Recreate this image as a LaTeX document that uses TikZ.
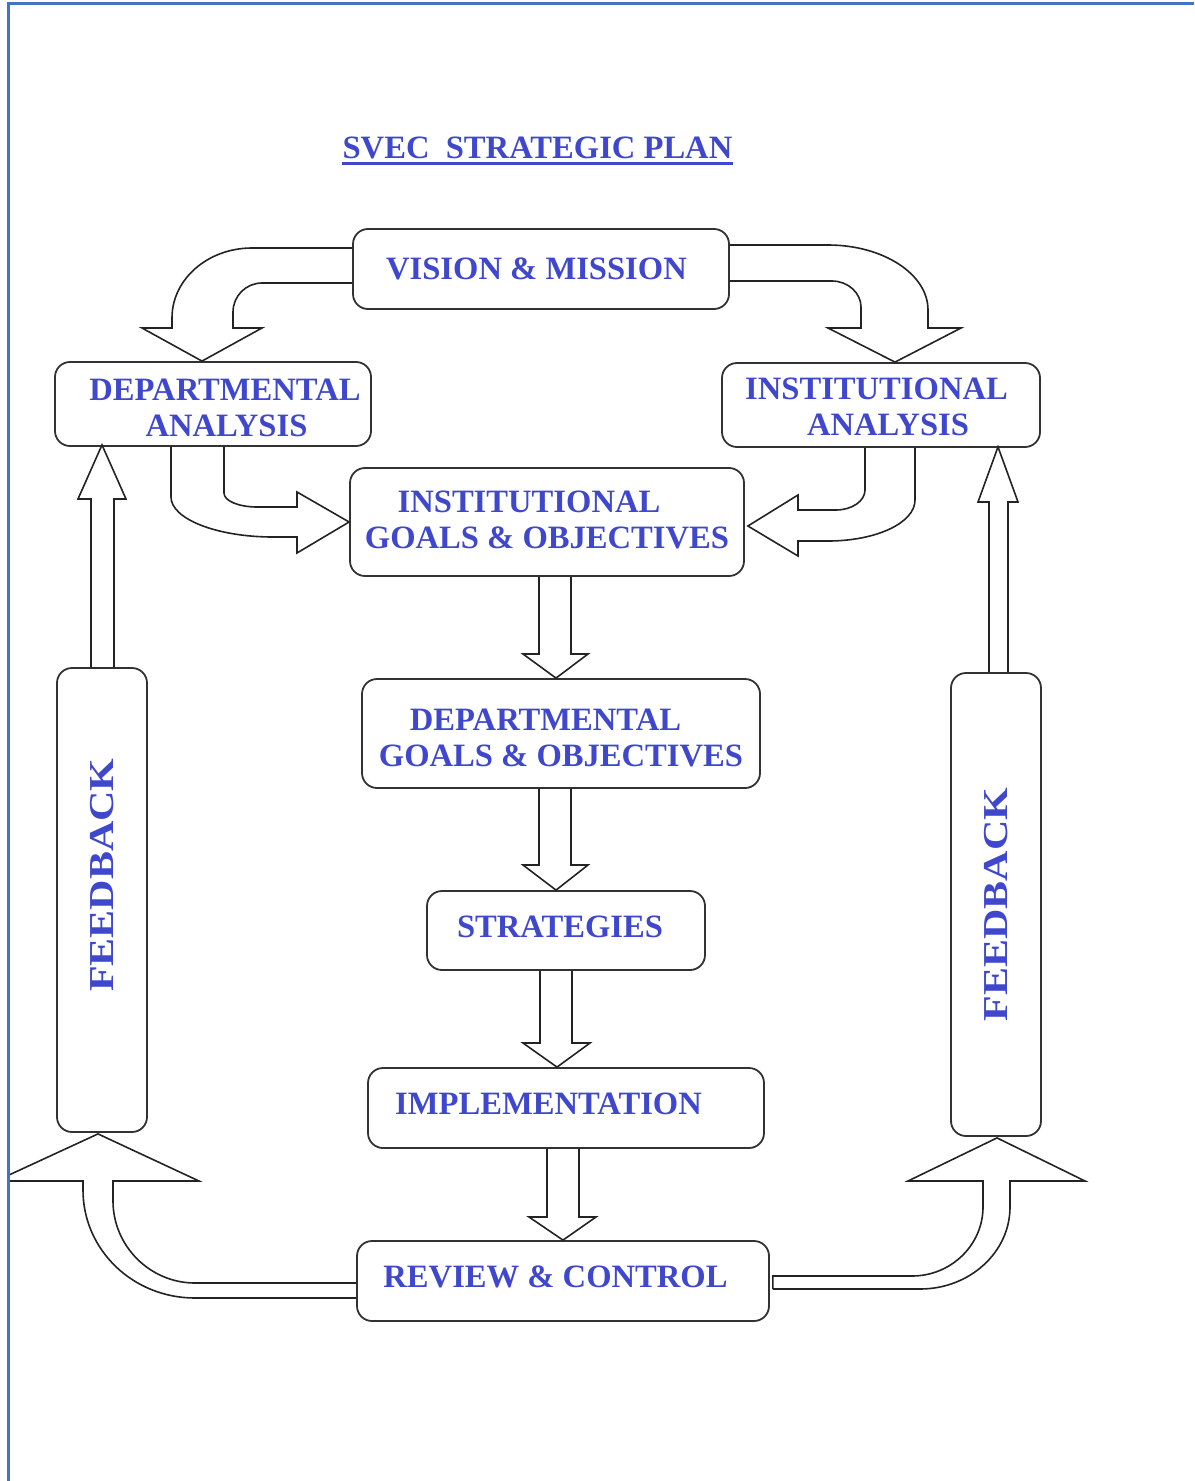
\documentclass[tikz,border=0pt]{standalone}
\usepackage{fontspec}
\setmainfont{Liberation Serif}
\usepackage{graphicx}
\usetikzlibrary{calc}
\definecolor{txtblue}{RGB}{63,72,204}
\definecolor{frameblue}{RGB}{68,114,196}
\definecolor{boxline}{RGB}{50,50,50}
\definecolor{arrline}{RGB}{35,35,35}
\tikzset{
  box/.style={draw=boxline, line width=0.9pt, rounded corners=7.5pt, fill=white,
    text=txtblue, font=\fontsize{16.3}{18}\selectfont\bfseries, inner sep=0pt},
  twoline/.style={box, align=center},
  oneline/.style={box, text depth=4pt},
  fbbox/.style={box, minimum width=45pt},
  barrow/.style={draw=arrline, line width=0.8pt, line join=miter}
}
\newcommand{\fbword}{\scalebox{1.2}[1]{\fontsize{17.5}{18}\selectfont\bfseries FEEDBACK}}
\begin{document}
\begin{tikzpicture}[x=0.5pt,y=-0.5pt]
\useasboundingbox (0,0) rectangle (1194,1481);

% title
\node[text=txtblue, font=\fontsize{16.3}{18}\selectfont\bfseries, inner sep=0pt] (title) at (537.5,147.5) {SVEC\ \ STRATEGIC PLAN};
\draw[txtblue, line width=1.5pt] ([yshift=-2.5pt]title.base west) -- ([yshift=-2.5pt]title.base east);

% boxes
\node[box, minimum width=188pt, minimum height=40pt] (vm) at (541,269) {VISION \& MISSION\hspace*{4.5pt}};
\node[twoline, minimum width=158pt, minimum height=42pt] (da) at (213,404) {\rule{0pt}{15pt}\hspace*{12pt}DEPARTMENTAL\\\hspace*{13.5pt}ANALYSIS};
\node[twoline, minimum width=159pt, minimum height=42pt] (ia) at (881,405) {\rule{0pt}{13pt}INSTITUTIONAL\hspace*{4.5pt}\\\hspace*{7pt}ANALYSIS};
\node[twoline, minimum width=197pt, minimum height=54pt] (ig) at (547,522) {INSTITUTIONAL\hspace*{18pt}\\GOALS \& OBJECTIVES\rule[-2.5pt]{0pt}{2.5pt}};
\node[twoline, minimum width=199pt, minimum height=54.5pt] (dg) at (561,733.5) {\rule{0pt}{15pt}DEPARTMENTAL\hspace*{15.5pt}\\GOALS \& OBJECTIVES};
\node[oneline, minimum width=139pt, minimum height=39.5pt] (st) at (566,930.5) {STRATEGIES\hspace*{6pt}};
\node[oneline, minimum width=198pt, minimum height=40pt] (im) at (566,1108) {IMPLEMENTATION\hspace*{17.5pt}};
\node[oneline, minimum width=206pt, minimum height=40pt] (rc) at (563,1281) {REVIEW \& CONTROL\hspace*{7.5pt}};
\node[fbbox, minimum height=232pt] (fbl) at (102,900) {\rotatebox{90}{\hspace*{25pt}\fbword}};
\node[fbbox, minimum height=231.5pt] (fbr) at (996,904.5) {\rotatebox{90}{\fbword}};

% vision -> departmental analysis
\draw[barrow] ($(vm.west)+(0,-21)$) -- (252,248) .. controls (208,248) and (172,279) .. (172,318)
  -- (172,328) -- (142,328) -- ($(da.north)+(-11,0)$) -- (262,328) -- (233,328) -- (233,312)
  .. controls (233,296) and (246,283) .. (262,283) -- ($(vm.west)+(0,14)$);
% vision -> institutional analysis
\draw[barrow] ($(vm.east)+(0,-24)$) -- (828,245) .. controls (883,245) and (928,274) .. (928,310)
  -- (928,328) -- (961,328) -- ($(ia.north)+(14,0)$) -- (828,328) -- (861,328) -- (861,307)
  .. controls (861,293) and (848,281) .. (832,281) -- ($(vm.east)+(0,12)$);
% departmental analysis -> institutional goals
\draw[barrow] ($(da.south)+(11,0)$) -- (224,493) .. controls (224,501) and (239,507) .. (257,507)
  -- (297,507) -- (297,492) -- (ig.west) -- (297,553) -- (297,537) -- (273,537)
  .. controls (217,537) and (171,519) .. (171,497) -- ($(da.south)+(-42,0)$);
% institutional analysis -> institutional goals
\draw[barrow] ($(ia.south)+(-16,0)$) -- (865,490) .. controls (865,501) and (852,510) .. (836,510)
  -- (798,510) -- (798,495) -- ($(ig.east)+(3,4)$) -- (798,556) -- (798,541) -- (828,541)
  .. controls (876,541) and (915,523) .. (915,500) -- ($(ia.south)+(34,0)$);
% feedback arrows up
\draw[barrow] ($(fbl.north)+(-11,0)$) -- (91,499) -- (78,499) -- ($(da.south)+(-111,-2)$)
  -- (126,499) -- (114,499) -- ($(fbl.north)+(12,0)$);
\draw[barrow] ($(fbr.north)+(-7,0)$) -- (989,502) -- (978,502) -- ($(ia.south)+(117,-1)$)
  -- (1018,502) -- (1008,502) -- ($(fbr.north)+(12,0)$);
% vertical chain
\draw[barrow] ($(ig.south)+(-8,0)$) -- (539,654) -- (523,654) -- ($(dg.north)+(-5,0)$)
  -- (588,654) -- (571,654) -- ($(ig.south)+(24,0)$);
\draw[barrow] ($(dg.south)+(-22,0)$) -- (539,865) -- (523,865) -- ($(st.north)+(-10,0)$)
  -- (588,865) -- (571,865) -- ($(dg.south)+(10,0)$);
\draw[barrow] ($(st.south)+(-26,0)$) -- (540,1043) -- (523,1043) -- ($(im.north)+(-9,0)$)
  -- (590,1043) -- (572,1043) -- ($(st.south)+(6,0)$);
\draw[barrow] ($(im.south)+(-19,0)$) -- (547,1217) -- (529,1217) -- (rc.north)
  -- (596,1217) -- (579,1217) -- ($(im.south)+(13,0)$);
% review -> left feedback
\draw[barrow] ($(rc.west)+(0,2)$) -- (195,1283) .. controls (150,1283) and (113,1246) .. (113,1201)
  -- (113,1181) -- (199,1181) -- ($(fbl.south)+(-4,1)$) -- (9,1175) -- (9,1181) -- (83,1181)
  -- (83,1190) .. controls (83,1250) and (133,1298) .. (195,1298) -- ($(rc.west)+(0,17)$);
% review -> right feedback
\draw[barrow] ($(rc.east)+(3,8)$) -- ($(rc.east)+(3,-5)$) -- (912,1276) .. controls (951,1276) and (983,1245) .. (983,1207)
  -- (983,1181) -- (908,1181) -- ($(fbr.south)+(1,1)$) -- (1085,1181) -- (1010,1181) -- (1010,1207)
  .. controls (1010,1252) and (970,1289) .. (920,1289) -- ($(rc.east)+(3,8)$);

% frame
\draw[frameblue, line width=1.5pt] (8,1481) -- (8,4) -- (1194,4);
\end{tikzpicture}
\end{document}
